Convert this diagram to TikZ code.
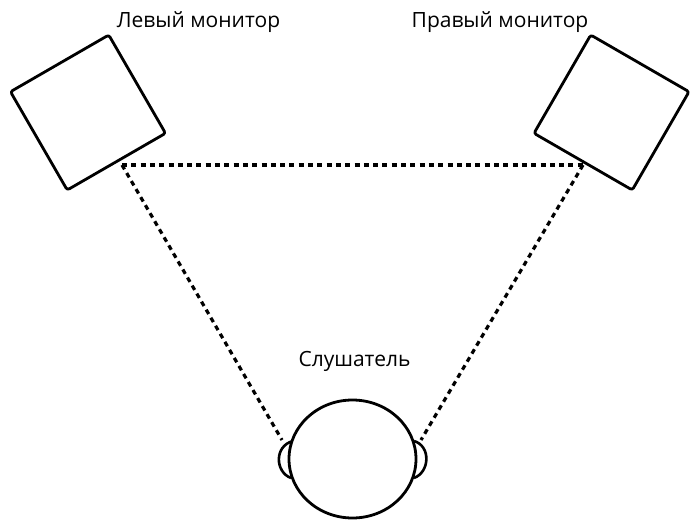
\documentclass[tikz,border=0pt]{standalone}
\usepackage{fontspec}
\setmainfont{Open Sans}
\usetikzlibrary{shapes.geometric}
\tikzset{
  monitor/.style={draw=black,line width=2.8pt,fill=white,rectangle,rounded corners=2.5pt,minimum width=113.5pt,minimum height=113.5pt,inner sep=0pt},
  headshape/.style={draw=black,line width=2.8pt,fill=white,ellipse,minimum width=127pt,minimum height=118pt,inner sep=0pt},
  ear/.style={draw=black,line width=2.6pt,fill=white},
  sightline/.style={draw=black,line width=3.2pt,dash pattern=on 5pt off 4.3pt},
  caption/.style={font=\fontsize{21}{25}\selectfont,text=black,inner sep=0pt}
}
\begin{document}
\begin{tikzpicture}[x=1pt,y=-1pt]
\useasboundingbox (0,0) rectangle (694,520);
\coordinate (lp) at (122,165);
\coordinate (rp) at (583,165);
\coordinate (hl) at (282,440);
\coordinate (hr) at (421,440);
\draw[sightline] (lp) -- (rp);
\draw[sightline] (lp) -- (hl);
\draw[sightline] (rp) -- (hr);
\node[monitor,rotate=30] (leftbox) at (88,112.5) {};
\node[monitor,rotate=-30] (rightbox) at (611.5,112.5) {};
\coordinate (lea) at (293,441);
\coordinate (leb) at (291,478);
\coordinate (rea) at (414,441);
\coordinate (reb) at (414,478);
\draw[ear] (lea) .. controls (274,446) and (275,472) .. (leb);
\draw[ear] (rea) .. controls (431,446) and (430,472) .. (reb);
\node[headshape] (head) at (352.5,459) {};
\node[caption] (leftlabel) at (198.5,22) {Левый монитор};
\node[caption] (rightlabel) at (500,22) {Правый монитор};
\node[caption] (listener) at (354.5,361) {Слушатель};
\end{tikzpicture}
\end{document}
